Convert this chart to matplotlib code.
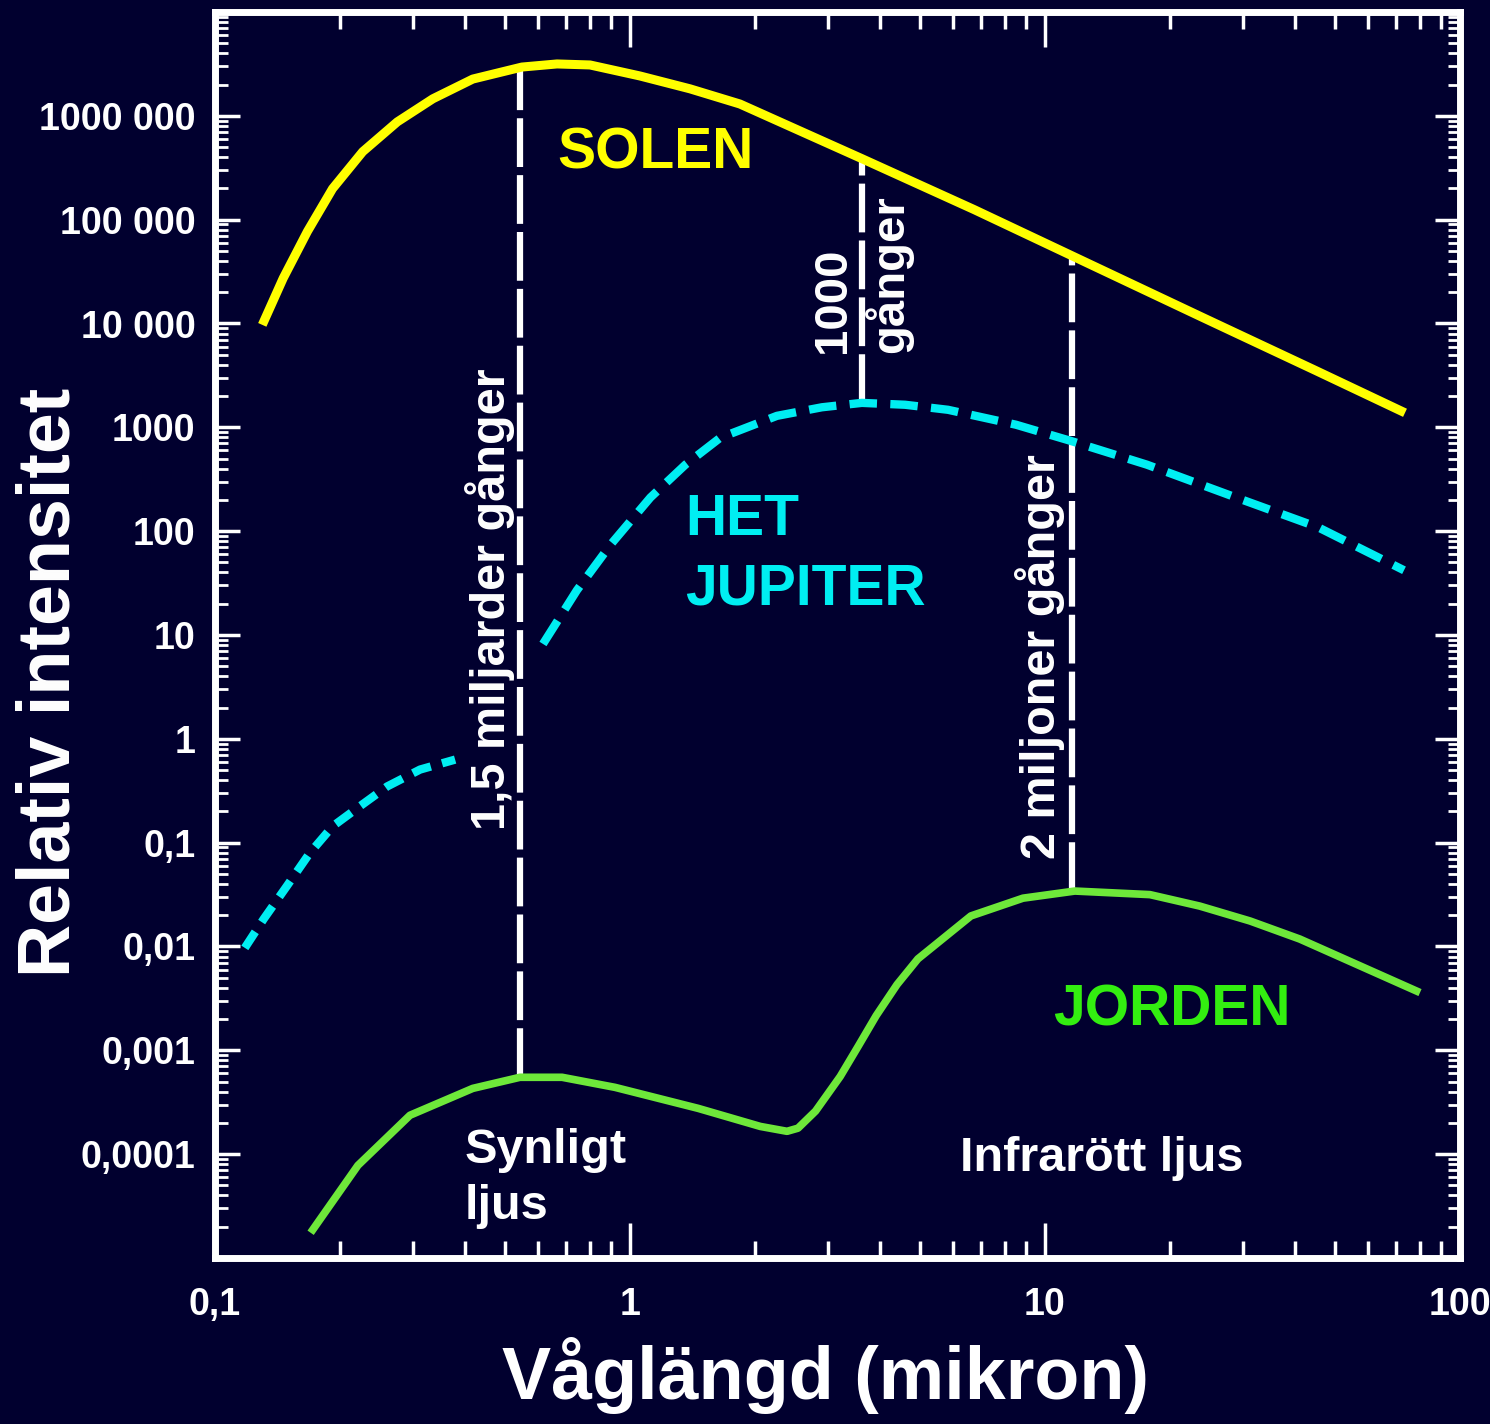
import numpy as np
import matplotlib.pyplot as plt
from matplotlib import font_manager
from matplotlib.ticker import LogLocator, NullFormatter, FixedLocator, FixedFormatter

# font: narrow bold sans if present
names = set(f.name for f in font_manager.fontManager.ttflist)
FAM = ["Liberation Sans Narrow", "DejaVu Sans"] if "Liberation Sans Narrow" in names else ["Liberation Sans", "DejaVu Sans"]
plt.rcParams["font.family"] = FAM
plt.rcParams["font.weight"] = "bold"

BG = "#01002f"
YELLOW = "#ffff00"
CYAN = "#00eef2"
GREEN = "#6ee83a"
GREEN_TXT = "#33ee10"

# --- data ---
sun_x = [0.130, 0.146, 0.167, 0.192, 0.227, 0.275, 0.335, 0.418, 0.549, 0.667, 0.801, 1.057, 1.395, 1.84,
         2.44, 3.62, 6.75, 11.6, 23.9, 45.0, 73.7]
sun_y = [9.7e3, 2.73e4, 7.7e4, 1.99e5, 4.52e5, 8.75e5, 1.46e6, 2.26e6, 2.95e6, 3.16e6, 3.09e6, 2.42e6, 1.82e6, 1.30e6,
         7.84e5, 3.87e5, 1.25e5, 4.5e4, 1.15e4, 3.51e3, 1.38e3]

jup1_x = [0.118, 0.131, 0.149, 0.169, 0.192, 0.223, 0.260, 0.312, 0.379]
jup1_y = [9.7e-3, 0.0184, 0.0382, 0.079, 0.1435, 0.223, 0.348, 0.506, 0.631]
jup2_x = [0.617, 0.745, 0.900, 1.12, 1.36, 1.65, 2.26, 2.9, 3.62, 4.6, 5.84, 8.51, 11.5, 17.6, 28.4, 45.5, 73.3]
jup2_y = [8.2, 27, 75, 211, 437, 794, 1290, 1560, 1720, 1650, 1475, 1060, 743, 437, 216, 109, 42]

earth_x = [0.170, 0.221, 0.295, 0.418, 0.543, 0.686, 0.920, 1.46, 2.06, 2.39, 2.54, 2.8, 3.21, 3.55, 3.92, 4.4, 4.94,
           6.63, 8.85, 11.8, 17.9, 23.6, 31.2, 41.1, 80.1]
earth_y = [1.75e-5, 7.8e-5, 2.37e-4, 4.3e-4, 5.5e-4, 5.5e-4, 4.4e-4, 2.76e-4, 1.85e-4, 1.66e-4, 1.78e-4, 2.6e-4,
           5.6e-4, 1.1e-3, 2.16e-3, 4.3e-3, 7.6e-3, 0.0197, 0.0292, 0.0342, 0.0316, 0.0245, 0.0176, 0.0118, 3.6e-3]

# comparison lines (wavelength, bottom, top)
cmp_x = [0.543, 3.62, 11.6]
cmp_lo = [5.5e-4, 1720, 0.0342]
cmp_hi = [2.95e6, 3.87e5, 4.5e4]
cmp_txt = ["1,5 miljarder gånger", "1000\ngånger", "2 miljoner gånger"]

ytick_vals = [1e6, 1e5, 1e4, 1e3, 100, 10, 1, 0.1, 0.01, 0.001, 0.0001]
ytick_lbl = ["1000 000", "100 000", "10 000", "1000", "100", "10", "1", "0,1", "0,01", "0,001", "0,0001"]
xtick_vals = [0.1, 1, 10, 100]
xtick_lbl = ["0,1", "1", "10", "100"]

fig = plt.figure(figsize=(14.9, 14.24), dpi=100, facecolor=BG)
ax = fig.add_axes([215 / 1490, 1 - 1258 / 1424, 1245 / 1490, 1246 / 1424])
ax.set_facecolor(BG)
ax.set_xscale("log")
ax.set_yscale("log")
ax.set_xlim(0.1, 100)
ax.set_ylim(1e-5, 1e7)

ax.plot(sun_x, sun_y, color=YELLOW, lw=6.5, solid_capstyle="butt", solid_joinstyle="round", zorder=3)
ax.plot(jup1_x, jup1_y, color=CYAN, lw=6, dashes=(2.3, 1.4), zorder=3)
ax.plot(jup2_x, jup2_y, color=CYAN, lw=6, dashes=(3.3, 1.6), zorder=3)
ax.plot(earth_x, earth_y, color=GREEN, lw=5.5, solid_capstyle="butt", solid_joinstyle="round", zorder=3)

for xv, lo, hi in zip(cmp_x, cmp_lo, cmp_hi):
    ax.plot([xv, xv], [lo, hi], color="white", lw=4.5, dashes=(7.8, 1.3), zorder=2)

# spines and ticks
for s in ax.spines.values():
    s.set_color("white")
    s.set_linewidth(5)
ax.xaxis.set_major_locator(FixedLocator(xtick_vals))
ax.xaxis.set_major_formatter(FixedFormatter(xtick_lbl))
ax.yaxis.set_major_locator(FixedLocator(ytick_vals))
ax.yaxis.set_major_formatter(FixedFormatter(ytick_lbl))
ax.xaxis.set_minor_locator(LogLocator(base=10, subs=np.arange(2, 10), numticks=20))
ax.yaxis.set_minor_locator(LogLocator(base=10, subs=np.arange(2, 10), numticks=30))
ax.xaxis.set_minor_formatter(NullFormatter())
ax.yaxis.set_minor_formatter(NullFormatter())
ax.tick_params(which="both", direction="in", colors="white", top=True, right=True)
ax.tick_params(axis="x", which="major", length=25, width=2.5, pad=21, labelsize=27)
ax.tick_params(axis="x", which="minor", length=12, width=2.5)
ax.tick_params(axis="y", which="major", length=18, width=2.5, pad=14, labelsize=27)
ax.tick_params(axis="y", which="minor", length=9, width=2)

# labels inside the plot
ax.text(1.15, 4.3e5, "SOLEN", color=YELLOW, fontsize=41, fontweight="bold", ha="center", va="center")
ax.text(1.357, 235, "HET\nJUPITER", color=CYAN, fontsize=41, fontweight="bold", ha="left", va="top", linespacing=1.38)
ax.text(20.2, 2.4e-3, "JORDEN", color=GREEN_TXT, fontsize=41, fontweight="bold", ha="center", va="center")
ax.text(0.40, 1.8e-4, "Synligt\nljus", color="white", fontsize=35, fontweight="bold", ha="left", va="top", linespacing=1.32)
ax.text(6.24, 0.90e-4, "Infrarött ljus", color="white", fontsize=35, fontweight="bold", ha="left", va="center")

ax.text(0.46, 22, cmp_txt[0], color="white", fontsize=35, fontweight="bold", rotation=90, ha="center", va="center")
ax.text(3.62, 5200, cmp_txt[1], color="white", fontsize=34, fontweight="bold", rotation=90, ha="center", va="bottom",
        multialignment="left", linespacing=1.25)
ax.text(9.73, 6.15, cmp_txt[2], color="white", fontsize=35, fontweight="bold", rotation=90, ha="center", va="center")

fig.text(50 / 1490, 1 - 682 / 1424, "Relativ intensitet", color="white", fontsize=53, fontweight="bold",
         rotation=90, ha="center", va="center")
fig.text(825 / 1490, 1 - 1375 / 1424, "Våglängd (mikron)", color="white", fontsize=53, fontweight="bold",
         ha="center", va="center")

fig.savefig("out.png", dpi=100, facecolor=BG)
